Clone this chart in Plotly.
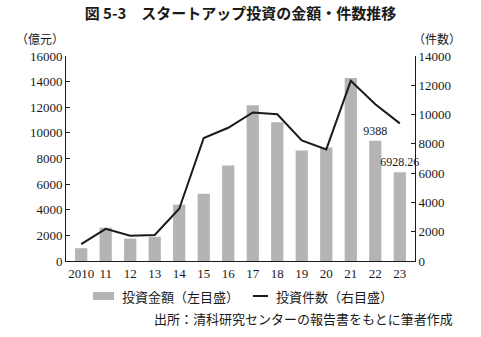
import plotly.graph_objects as go

# Startup investment in China: amount (100 million yuan) and deal count, 2010-2023
years = ["2010", "11", "12", "13", "14", "15", "16", "17", "18", "19", "20", "21", "22", "23"]
amount = [1000, 2600, 1750, 1900, 4400, 5250, 7450, 12150, 10820, 8630, 8850, 14280, 9388, 6928.26]
deals = [1150, 2200, 1720, 1780, 3570, 8400, 9100, 10140, 10020, 8240, 7620, 12300, 10700, 9400]
labeled_years = ["22", "23"]

title_text = "図 5-3　スタートアップ投資の金額・件数推移"
left_unit = "（億元）"
right_unit = "（件数）"
legend_amount = "投資金額（左目盛）"
legend_deals = "投資件数（右目盛）"
source_text = "出所：清科研究センターの報告書をもとに筆者作成"

W, H = 481, 337
L, R, T, B = 66, 415, 56, 261  # plot area in pixels

SERIF = "Liberation Serif, Times New Roman, serif"
JP = "Noto Sans CJK JP, sans-serif"
BAR_GREY = "#b4b4b4"
INK = "#1a1a1a"


def px(x):
    return (x - L) / (R - L)


def py(y):
    return (B - y) / (B - T)


bar_text = [f"{v:g}" if y in labeled_years else "" for y, v in zip(years, amount)]

fig = go.Figure()
fig.add_trace(go.Bar(
    x=years, y=amount, width=0.5, marker=dict(color=BAR_GREY, line=dict(width=0)),
    text=bar_text, textposition="outside", cliponaxis=False, constraintext="none",
    textfont=dict(family=SERIF, size=12, color=INK),
    showlegend=False, yaxis="y",
))
fig.add_trace(go.Scatter(
    x=years, y=deals, mode="lines", line=dict(color=INK, width=2),
    showlegend=False, yaxis="y2",
))

axis_common = dict(
    showline=True, linecolor=INK, linewidth=1, showgrid=False, zeroline=False,
    ticks="inside", ticklen=4, tickcolor=INK, tickwidth=1, tickformat="d",
    tickfont=dict(family=SERIF, size=13, color=INK),
)

fig.update_layout(
    width=W, height=H,
    margin=dict(l=L, r=W - R, t=T, b=H - B),
    paper_bgcolor="white", plot_bgcolor="white",
    title=dict(
        text=title_text, x=0.5, xanchor="center", y=1 - 14 / H, yanchor="middle",
        font=dict(family=JP, size=15, color=INK, weight="bold"),
    ),
    xaxis=dict(
        type="category", range=[-0.62, 13.62],
        showline=True, linecolor=INK, linewidth=1, showgrid=False, ticks="",
        tickfont=dict(family=SERIF, size=13, color=INK),
    ),
    yaxis=dict(range=[0, 16000], dtick=2000, **axis_common),
    yaxis2=dict(range=[0, 14000], dtick=2000, overlaying="y", side="right", **axis_common),
)

annotations = [
    dict(text=left_unit, x=px(40), y=py(39), xanchor="center", yanchor="middle",
         font=dict(family=JP, size=12, color=INK)),
    dict(text=right_unit, x=px(437), y=py(39), xanchor="center", yanchor="middle",
         font=dict(family=JP, size=12, color=INK)),
    dict(text=legend_amount, x=px(120), y=py(296), xanchor="left", yanchor="middle",
         font=dict(family=JP, size=13, color=INK)),
    dict(text=legend_deals, x=px(274), y=py(296), xanchor="left", yanchor="middle",
         font=dict(family=JP, size=13, color=INK)),
    dict(text=source_text, x=px(455), y=py(318), xanchor="right", yanchor="middle",
         font=dict(family=JP, size=13, color=INK)),
]
for a in annotations:
    a.update(xref="paper", yref="paper", showarrow=False)
fig.update_layout(annotations=annotations)

# legend keys
fig.add_shape(type="rect", xref="paper", yref="paper",
              x0=px(93), x1=px(114), y0=py(300), y1=py(292),
              fillcolor=BAR_GREY, line=dict(width=0))
fig.add_shape(type="line", xref="paper", yref="paper",
              x0=px(253), x1=px(268), y0=py(296), y1=py(296),
              line=dict(color=INK, width=2))

fig.write_html("out.html")
